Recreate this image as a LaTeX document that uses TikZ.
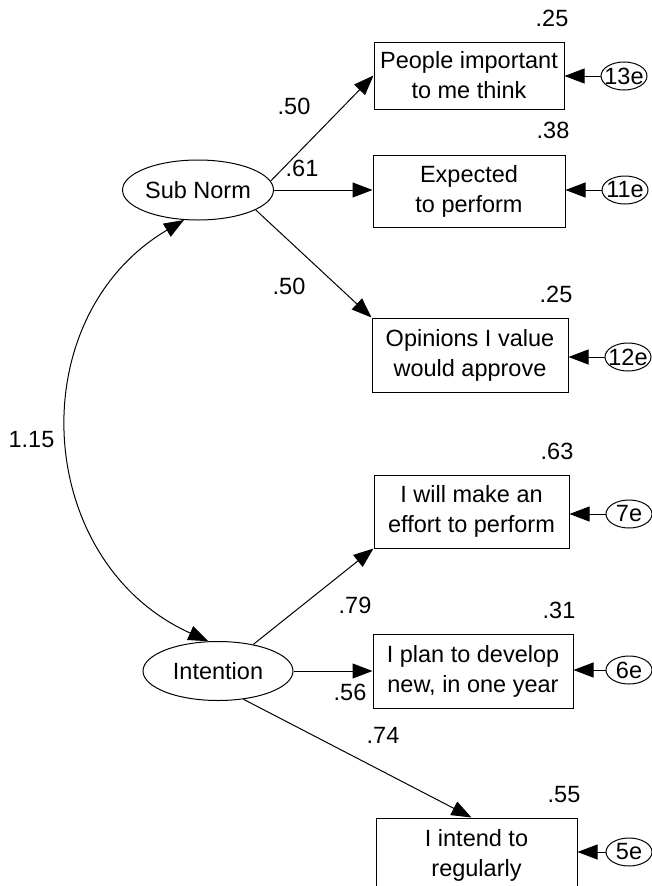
\documentclass[tikz,border=0pt]{standalone}
\usepackage{fontspec}
\setmainfont{Liberation Sans}
\usetikzlibrary{arrows.meta,shapes.geometric,calc}
\begin{document}
\begin{tikzpicture}[x=1pt,y=-1pt,
  every node/.style={font=\fontsize{23.5}{30}\selectfont},
  obs/.style={draw, rectangle, line width=1pt, inner sep=0pt, align=center},
  lat/.style={draw, ellipse, line width=1pt, inner sep=0pt, minimum width=151pt, minimum height=60pt},
  err/.style={draw, ellipse, line width=1pt, inner sep=0pt, minimum width=46pt, minimum height=28pt},
  tip/.style={Triangle[length=20pt,width=15pt]},
  regpath/.style={line width=1pt, -{Triangle[length=20pt,width=15pt]}},
  covpath/.style={line width=1pt, {Triangle[length=20pt,width=15pt]}-{Triangle[length=20pt,width=15pt]}}
]
\useasboundingbox (0,0) rectangle (652,886);
\clip (0,0) rectangle (652,886);

% latent variables
\node[lat] (sub) at (198,190) {Sub Norm};
\node[lat, minimum width=150pt, minimum height=59pt] (int) at (218,671) {Intention};

% observed indicators
\node[obs, minimum width=190pt, minimum height=67pt] (b1) at (469,75.5) {People important\\to me think};
\node[obs, minimum width=192pt, minimum height=72pt] (b2) at (469,191) {Expected\\to perform};
\node[obs, minimum width=196pt, minimum height=74pt] (b3) at (470,355) {Opinions I value\\would approve};
\node[obs, minimum width=195pt, minimum height=73pt] (b4) at (471.5,511.5) {I will make an\\effort to perform};
\node[obs, minimum width=200pt, minimum height=74pt] (b5) at (473,671) {I plan to develop\\new, in one year};
\node[obs, minimum width=201pt, minimum height=74pt] (b6) at (476.5,855) {I intend to\\regularly};

% error terms
\node[err] (e13) at (624,76)  {\makebox[0pt]{13e}};
\node[err] (e11) at (625,190) {\makebox[0pt]{11e}};
\node[err] (e12) at (628,357) {\makebox[0pt]{12e}};
\node[err] (e7)  at (629,514) {\makebox[0pt]{7e}};
\node[err] (e6)  at (629,670) {\makebox[0pt]{6e}};
\node[err] (e5)  at (629,852) {\makebox[0pt]{5e}};

% error paths
\draw[regpath] (e13.west) -- (e13.west -| b1.east);
\draw[regpath] (e11.west) -- (e11.west -| b2.east);
\draw[regpath] (e12.west) -- (e12.west -| b3.east);
\draw[regpath] (e7.west)  -- (e7.west  -| b4.east);
\draw[regpath] (e6.west)  -- (e6.west  -| b5.east);
\draw[regpath] (e5.west)  -- (e5.west  -| b6.east);

% loadings
\draw[regpath] (sub.7) -- (b1.west);
\draw[regpath] (sub.east) -- (sub.east -| b2.west);
\draw[regpath] (sub.341) -- (b3.north west);
\draw[regpath] (int.37) -- (b4.south west);
\draw[regpath] (int.east) -- (int.east -| b5.west);
\draw[regpath] (int.312) -- ($(b6.north)+(-5,0)$);

% covariance
\draw[covpath] (sub.245) .. controls ($(sub.245)+(-165,98)$) and ($(int.108)+(-175,-79)$) .. (int.108);

% coefficients
\node (c1) at (294,106) {.50};
\node (c2) at (302,168) {.61};
\node (c3) at (289,286) {.50};
\node (c4) at (355,605) {.79};
\node (c5) at (350,692) {.56};
\node (c6) at (383,735) {.74};
\node (cov) at (31.5,440) {1.15};

% squared multiple correlations
\node (r1) at (552,18)  {.25};
\node (r2) at (553,130) {.38};
\node (r3) at (556,294) {.25};
\node (r4) at (557,451) {.63};
\node (r5) at (559,610) {.31};
\node (r6) at (564,795) {.55};
\end{tikzpicture}
\end{document}
